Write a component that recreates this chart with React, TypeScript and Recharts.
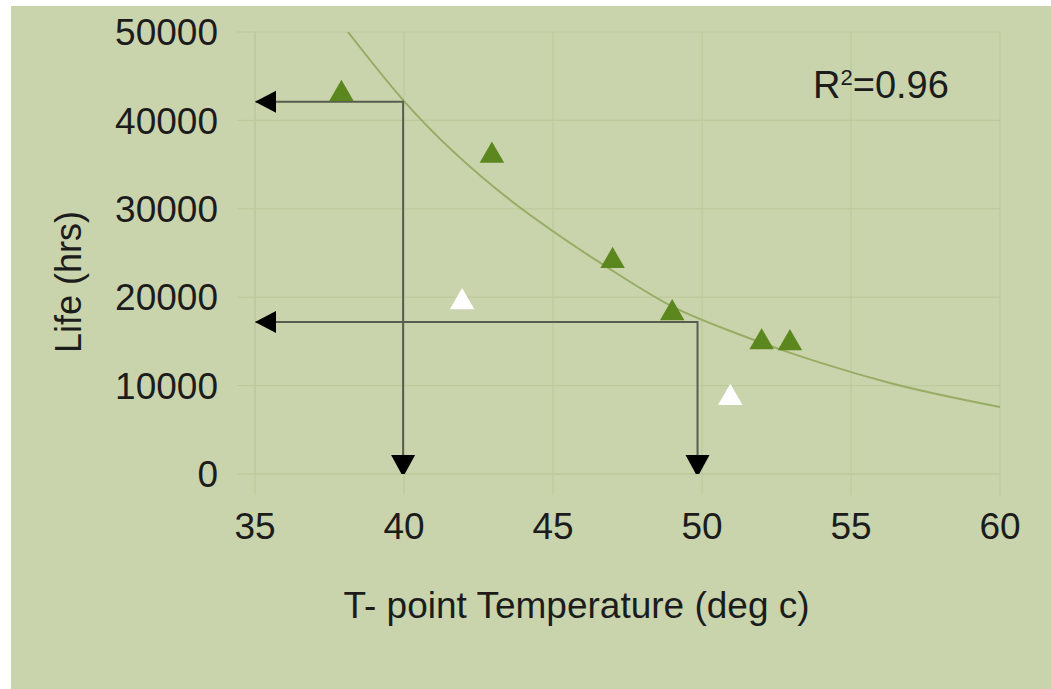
import React from "react";
import { ComposedChart, XAxis, YAxis, CartesianGrid, Scatter, Line, ZAxis, Label } from "recharts";

const xTicks = [35, 40, 45, 50, 55, 60];
const yTicks = [0, 10000, 20000, 30000, 40000, 50000];

// green triangles
const measured = [
  { t: 37.9, v: 43000 },
  { t: 42.95, v: 36000 },
  { t: 47.0, v: 24100 },
  { t: 49.0, v: 18200 },
  { t: 52.0, v: 14900 },
  { t: 52.95, v: 14800 },
];
// white triangles
const outliers = [
  { t: 41.95, v: 19450 },
  { t: 50.95, v: 8600 },
];
// trend curve
const trend = [
  { t: 38.12, v: 50000 },
  { t: 39.97, v: 42300 },
  { t: 43.56, v: 31000 },
  { t: 44.56, v: 28500 },
  { t: 46.81, v: 23400 },
  { t: 49.03, v: 18900 },
  { t: 51.28, v: 15750 },
  { t: 52.62, v: 14100 },
  { t: 53.96, v: 12600 },
  { t: 56.31, v: 10300 },
  { t: 60, v: 7580 },
];
const arrowHigh = [
  { t: 35, v: 42100 },
  { t: 39.97, v: 42100 },
  { t: 39.97, v: 0 },
];
const arrowLow = [
  { t: 35, v: 17200 },
  { t: 49.85, v: 17200 },
  { t: 49.85, v: 0 },
];
const arrowHeads = [
  { t: 35, v: 42100, dir: "left" },
  { t: 39.97, v: 0, dir: "down" },
  { t: 35, v: 17200, dir: "left" },
  { t: 49.85, v: 0, dir: "down" },
];

const font = "'Liberation Sans', Arial, Helvetica, sans-serif";
const bg = "#c9d4ad";
const grid = "#bdca9b";
const textColor = "#1c1c1c";

const ArrowHead = (props: any) => {
  const { cx, cy, payload } = props;
  if (payload.dir === "left") {
    return <polygon points={`${cx},${cy} ${cx + 21},${cy - 11} ${cx + 21},${cy + 11}`} fill="#000" />;
  }
  return <polygon points={`${cx},${cy + 3} ${cx - 12},${cy - 19} ${cx + 12},${cy - 19}`} fill="#000" />;
};

export default function App() {
  return (
    <div style={{ position: "absolute", left: 0, top: 0, width: 1051, height: 689, background: "#fff" }}>
      <div style={{ position: "absolute", left: 11, top: 6, width: 1040, height: 683, background: bg, fontFamily: font }}>
        <ComposedChart width={1040} height={683} margin={{ top: 26, right: 51, bottom: 65, left: 44 }}>
          <CartesianGrid stroke={grid} strokeWidth={1.2} horizontalValues={yTicks} verticalValues={xTicks} />
          <XAxis
            type="number"
            dataKey="t"
            domain={[35, 60]}
            ticks={xTicks}
            allowDataOverflow
            height={150}
            tickSize={21}
            tickMargin={18}
            axisLine={{ stroke: grid, strokeWidth: 1.2 }}
            tickLine={{ stroke: grid, strokeWidth: 1.2 }}
            tick={{ fill: textColor, fontSize: 37, fontFamily: font }}
          >
            <Label
              content={(p: any) => {
                const vb = p.viewBox;
                return (
                  <text x={vb.x + vb.width / 2 - 51} y={vb.y + 144} textAnchor="middle" fontSize={37} fontFamily={font} fill={textColor}>
                    T- point Temperature (deg c)
                  </text>
                );
              }}
            />
          </XAxis>
          <YAxis
            type="number"
            dataKey="v"
            domain={[0, 50000]}
            ticks={yTicks}
            allowDataOverflow
            width={200}
            tickSize={18}
            tickMargin={19}
            axisLine={{ stroke: grid, strokeWidth: 1.2 }}
            tickLine={{ stroke: grid, strokeWidth: 1.2 }}
            tick={{ fill: textColor, fontSize: 37, fontFamily: font }}
          >
            <Label
              content={(p: any) => {
                const vb = p.viewBox;
                const x = vb.x + 26;
                const y = vb.y + vb.height / 2 + 29;
                return (
                  <text x={x} y={y} transform={`rotate(-90 ${x} ${y})`} textAnchor="middle" fontSize={36} fontFamily={font} fill={textColor}>
                    Life (hrs)
                  </text>
                );
              }}
            />
          </YAxis>
          <ZAxis range={[260, 260]} />
          <Line data={trend} dataKey="v" type="monotone" stroke="#98ac64" strokeWidth={2} dot={false} activeDot={false} isAnimationActive={false} />
          <Line data={arrowHigh} dataKey="v" type="linear" stroke="#575e50" strokeWidth={2} dot={false} activeDot={false} isAnimationActive={false} />
          <Line data={arrowLow} dataKey="v" type="linear" stroke="#575e50" strokeWidth={2} dot={false} activeDot={false} isAnimationActive={false} />
          <Scatter data={arrowHeads} dataKey="v" shape={ArrowHead} isAnimationActive={false} />
          <Scatter data={measured} dataKey="v" shape="triangle" fill="#5c871f" isAnimationActive={false} />
          <Scatter data={outliers} dataKey="v" shape="triangle" fill="#ffffff" isAnimationActive={false} />
        </ComposedChart>
        <div style={{ position: "absolute", left: 802, top: 60, fontSize: 38, lineHeight: "38px", color: textColor, whiteSpace: "nowrap" }}>
          R<span style={{ fontSize: 22, position: "relative", top: -13 }}>2</span>=0.96
        </div>
      </div>
    </div>
  );
}
